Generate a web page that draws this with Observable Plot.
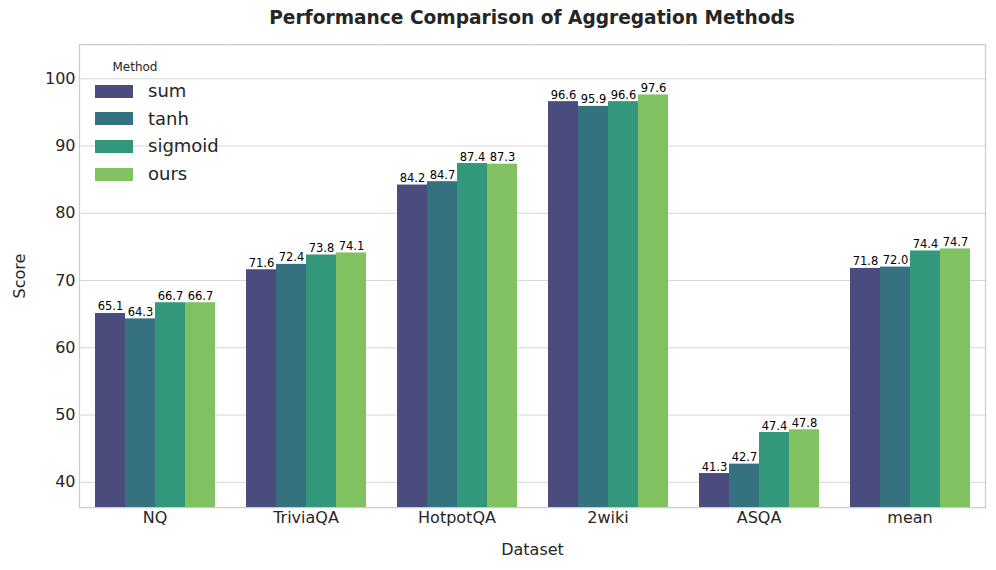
<!DOCTYPE html>
<html>
<head>
<meta charset="utf-8">
<script src="https://cdn.jsdelivr.net/npm/d3@7"></script>
<script src="https://cdn.jsdelivr.net/npm/@observablehq/plot@0.6"></script>
<style>
  html, body { margin: 0; padding: 0; background: #fff; }
  #wrap { position: relative; width: 996px; height: 570px; font-family: "DejaVu Sans", sans-serif; color: #262626; }
  #title { position: absolute; left: 78px; width: 908px; top: 7px; text-align: center; font-weight: bold; font-size: 18.6px; line-height: 22px; color: #262626; }
  #legend { position: absolute; left: 88px; top: 58px; font-family: "DejaVu Sans", sans-serif; color: #262626; }
  #legend .ttl { position: absolute; left: 0; width: 94px; top: 0; text-align: center; font-size: 12px; line-height: 18px; }
  #legend .row { position: absolute; left: 7px; height: 28px; display: flex; align-items: center; white-space: nowrap; }
  #legend .sw { width: 38px; height: 13px; margin-right: 15px; }
  #legend .lb { font-size: 18px; line-height: 28px; }
  g[aria-label="y-axis label"] text, g[aria-label="fx-axis label"] text { font-size: 16px; }
</style>
</head>
<body>
<div id="wrap">
  <div id="title">Performance Comparison of Aggregation Methods</div>
  <div id="chart"></div>
  <div id="legend"></div>
</div>
<script>
const datasets = ["NQ", "TriviaQA", "HotpotQA", "2wiki", "ASQA", "mean"];
const methods = ["sum", "tanh", "sigmoid", "ours"];
const colors = ["#4a4c7e", "#367180", "#33977c", "#80c161"];
const sumScores = [65.1, 71.6, 84.2, 96.6, 41.3, 71.8];
const tanhScores = [64.3, 72.4, 84.7, 95.9, 42.7, 72.0];
const sigmoidScores = [66.7, 73.8, 87.4, 96.6, 47.4, 74.4];
const oursScores = [66.7, 74.1, 87.3, 97.6, 47.8, 74.7];
const yTicks = [40, 50, 60, 70, 80, 90, 100];

const series = [sumScores, tanhScores, sigmoidScores, oursScores];
const rows = [];
datasets.forEach((ds, i) => {
  methods.forEach((m, j) => rows.push({dataset: ds, method: m, score: series[j][i]}));
});

const chart = Plot.plot({
  width: 996,
  height: 570,
  marginTop: 44,
  marginBottom: 63,
  marginLeft: 78,
  marginRight: 10,
  style: {fontFamily: "DejaVu Sans, sans-serif", background: "#fff", color: "#262626"},
  fx: {domain: datasets, padding: 0, label: "Dataset"},
  x: {domain: methods, paddingInner: 0, paddingOuter: 0.5, axis: null},
  y: {domain: [36.25, 105.1], label: "Score"},
  color: {domain: methods, range: colors},
  marks: [
    Plot.gridY(yTicks, {stroke: "#d6d6d6", strokeOpacity: 1, strokeWidth: 1}),
    Plot.barY(rows, {fx: "dataset", x: "method", y: "score", fill: "method", clip: true}),
    Plot.text(rows, {fx: "dataset", x: "method", y: "score", text: d => d.score.toFixed(1), lineAnchor: "bottom", dy: -3, fontSize: 11.5, fill: "black"}),
    Plot.frame({anchor: "top", stroke: "#cccccc", strokeWidth: 1.25}),
    Plot.frame({anchor: "bottom", stroke: "#cccccc", strokeWidth: 1.25}),
    Plot.frame({anchor: "left", fx: "NQ", stroke: "#cccccc", strokeWidth: 1.25}),
    Plot.frame({anchor: "right", fx: "mean", stroke: "#cccccc", strokeWidth: 1.25}),
    Plot.axisY({ticks: yTicks, tickSize: 0, tickPadding: 4, fontSize: 16, label: "Score", labelAnchor: "center", labelArrow: "none", labelOffset: 66}),
    Plot.axisFx({anchor: "bottom", tickSize: 0, tickPadding: 4, fontSize: 16, label: "Dataset", labelAnchor: "center", labelArrow: "none", labelOffset: 47})
  ]
});
document.getElementById("chart").appendChild(chart);

const legend = document.getElementById("legend");
const ttl = document.createElement("div");
ttl.className = "ttl";
ttl.textContent = "Method";
legend.appendChild(ttl);
methods.forEach((m, i) => {
  const row = document.createElement("div");
  row.className = "row";
  row.style.top = (19 + i * 27.7) + "px";
  const sw = document.createElement("div");
  sw.className = "sw";
  sw.style.background = colors[i];
  const lb = document.createElement("span");
  lb.className = "lb";
  lb.textContent = m;
  row.appendChild(sw);
  row.appendChild(lb);
  legend.appendChild(row);
});
</script>
</body>
</html>
